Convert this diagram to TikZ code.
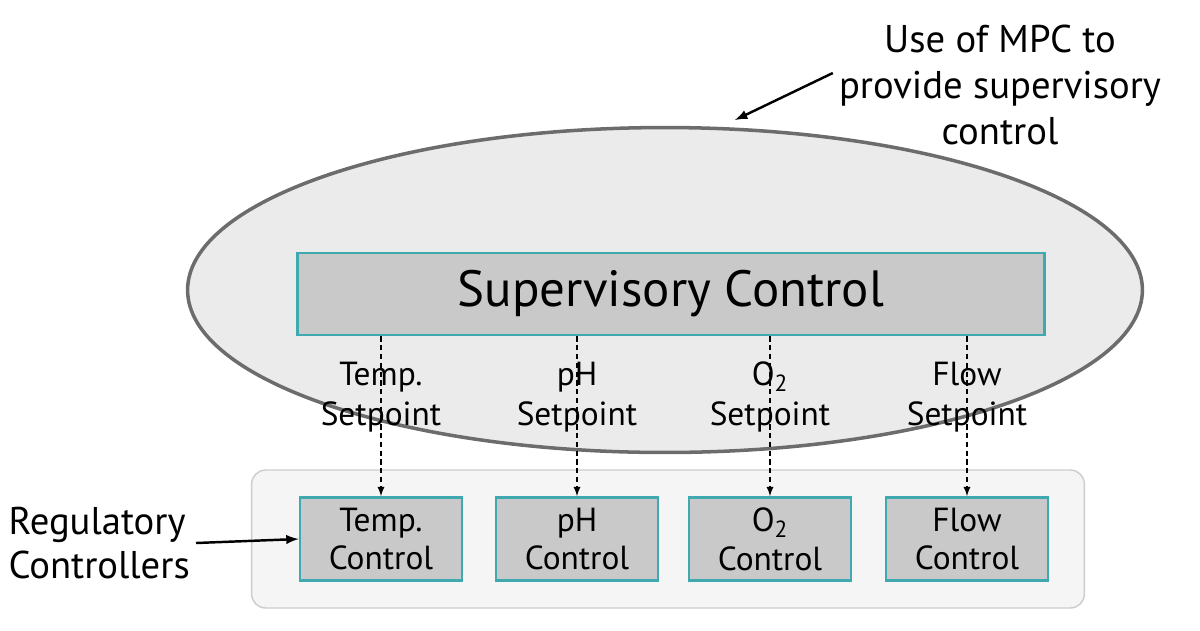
\documentclass[tikz,border=0pt]{standalone}
\usepackage{fontspec}
\setmainfont{PT Sans}
\usetikzlibrary{positioning,shapes.geometric}
\definecolor{tealline}{HTML}{3FA9B0}
\definecolor{boxgray}{HTML}{C9C9C9}
\definecolor{ovalgray}{HTML}{EBEBEB}
\tikzset{
    ctrl/.style={draw=tealline, line width=1.6pt, fill=boxgray, minimum width=3.24cm, minimum height=1.66cm, align=center, font=\fontsize{19}{22}\selectfont},
    setp/.style={align=center, font=\fontsize{19}{23}\selectfont},
    link/.style={densely dashed, thick, -latex},
    pointer/.style={line width=1.4pt, -latex}
}
\begin{document}
\begin{tikzpicture}[x=0.02cm, y=-0.02cm]

    % Frame of the picture
    \useasboundingbox (0,0) rectangle (1200,630);

    % Large oval for the MPC layer
    \node[ellipse, draw=gray!85!black, line width=2pt, fill=ovalgray, minimum width=19.1cm, minimum height=6.5cm] (oval) at (665,290) {};

    % Panel of regulatory controllers
    \node[draw=gray!40, thick, rounded corners=8pt, fill=gray!8, minimum width=16.66cm, minimum height=2.76cm] (panel) at (668,539) {};

    % Supervisory box
    \node[ctrl, minimum width=14.94cm, minimum height=1.64cm, font=\fontsize{29}{33}\selectfont] (super) at (671,294) {Supervisory Control};

    % Controllers and setpoint labels
    \foreach \name/\x/\top/\bot in {temp/381/Temp./Control, ph/577/pH/Control, otwo/770/O\textsubscript{2}/Control, flow/967/Flow/Control}{
        \node[ctrl] (\name) at (\x,539) {\top\\\bot};
        \draw[link] (super.south -| \name) -- (\name.north);
        \node[setp, inner sep=1pt] (\name lab) at (\x,397) {\top\\Setpoint};
    }

    % Left caption
    \node[setp, align=left, font=\fontsize{22}{25}\selectfont, anchor=east] (reg) at (196,543) {Regulatory\\Controllers};
    \draw[pointer] (reg.east) -- (temp.west);

    % Top caption
    \node[setp, font=\fontsize{22}{26}\selectfont] (mpc) at (1000,85) {Use of MPC to\\provide supervisory\\control};
    \coordinate (tip) at (735,120);
    \draw[pointer] (mpc.west) ++(0,-12) -- (tip);

\end{tikzpicture}
\end{document}
